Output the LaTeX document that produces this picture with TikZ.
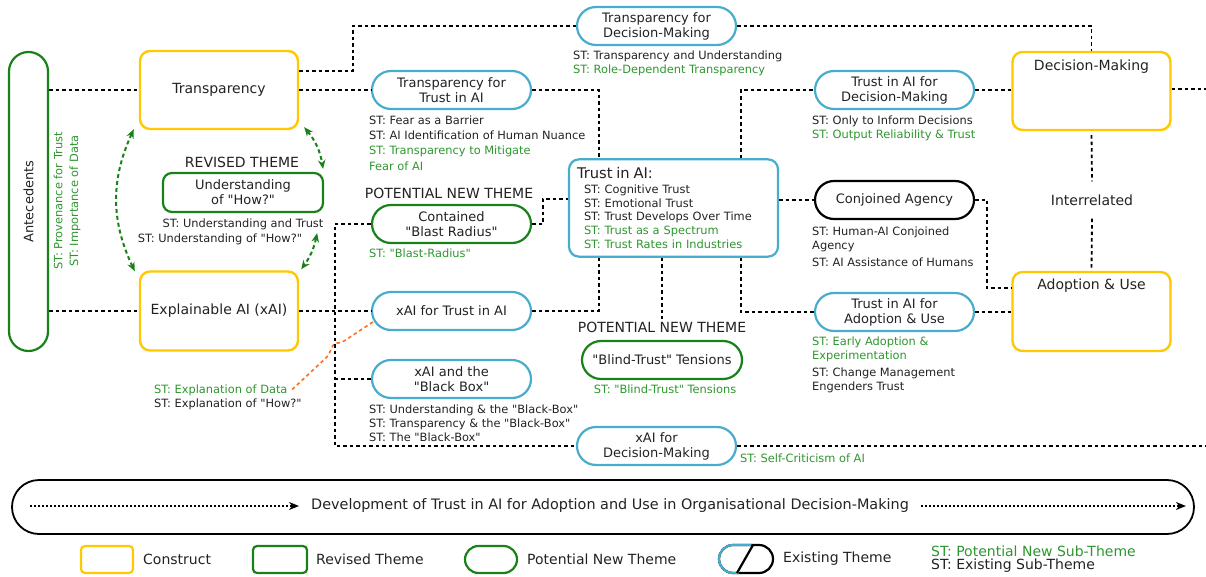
\documentclass[tikz,border=0pt]{standalone}
\usepackage{fontspec}
\setmainfont{DejaVu Sans}[Ligatures=TeXOff]
\usetikzlibrary{arrows.meta,calc}

\definecolor{cons}{RGB}{255,200,0}
\definecolor{thmgreen}{RGB}{24,130,24}
\definecolor{stgreen}{RGB}{46,150,46}
\definecolor{exblue}{RGB}{72,172,204}
\definecolor{ink}{RGB}{34,34,34}
\definecolor{xorange}{RGB}{255,110,30}

\newcommand{\setfs}[2]{\fontsize{#1}{#2}\selectfont}

\tikzset{
  construct/.style={draw=cons, line width=2.4pt, rounded corners=10pt,
    minimum width=158pt, minimum height=78pt, inner sep=0pt,
    font=\setfs{14}{17}, text=ink},
  pill/.style={draw=exblue, line width=2.2pt, rounded corners=19pt,
    minimum width=159pt, minimum height=38pt, inner sep=0pt, align=center,
    font=\setfs{13}{15}, text=ink},
  newpill/.style={pill, draw=thmgreen},
  oldpill/.style={pill, draw=black},
  revbox/.style={draw=thmgreen, line width=2.2pt, rounded corners=9pt,
    minimum width=160pt, minimum height=39pt, inner sep=0pt, align=center,
    font=\setfs{13}{15}, text=ink},
  head/.style={font=\setfs{14}{16}, text=ink, inner sep=0pt},
  sub/.style={font=\setfs{11.4}{14.5}, text=ink, align=left, inner sep=0pt,
    anchor=north west},
  conn/.style={draw=black, line width=1.8pt, dash pattern=on 3.5pt off 3pt},
  garrow/.style={draw=thmgreen, line width=2pt, dash pattern=on 4pt off 3pt,
    {Stealth[length=9pt,width=7.5pt]}-{Stealth[length=9pt,width=7.5pt]}},
  devarrow/.style={draw=black, line width=1.6pt, dash pattern=on 2pt off 2pt,
    -{Stealth[length=10pt,width=8pt]}},
  legtext/.style={font=\setfs{14}{16}, text=ink, inner sep=0pt, anchor=west},
}

\begin{document}
\begin{tikzpicture}[x=1pt,y=-1pt]
\useasboundingbox (0,0) rectangle (1206,577);
\coordinate (redge) at (1206,0);

% ---------- constructs ----------
\node[draw=thmgreen, line width=2.2pt, rounded corners=19.5pt,
      minimum width=39pt, minimum height=299pt, inner sep=0pt] (ante) at (28.5,201.5) {};
\node[rotate=90, font=\setfs{13}{15}, text=ink] at (ante) {Antecedents};
\node[sub, anchor=center, rotate=90, text=stgreen] at (58,201) {ST: Provenance for Trust};
\node[sub, anchor=center, rotate=90, text=stgreen] at (75,201) {ST: Importance of Data};

\node[construct] (trans) at (219,90) {Transparency};
\node[construct, minimum height=79pt] (xai) at (219,311) {Explainable AI (xAI)};
\node[construct] (dm) at (1091.5,91) {};
\node[head, below=9pt] at (dm.north) {Decision-Making};
\node[construct, minimum height=79pt] (adopt) at (1091.5,311.5) {};
\node[head, below=8pt] at (adopt.north) {Adoption \& Use};
\node[head, inner ysep=13pt] (interrel) at (1092,200) {Interrelated};

% ---------- revised theme ----------
\node[head] at (242,162) {REVISED THEME};
\node[revbox] (und) at (243,192.5) {Understanding\\of "How?"};
\node[sub, anchor=center] at (243,224) {ST: Understanding and Trust};
\node[sub, anchor=center] at (220,239) {ST: Understanding of "How?"};

% ---------- themes ----------
\node[pill] (tdm) at (656.5,26) {Transparency for\\Decision-Making};
\node[sub] at (573,50.5) {ST: Transparency and Understanding\\{\color{stgreen}ST: Role-Dependent Transparency}};

\node[pill] (ttrust) at (451.5,90) {Transparency for\\Trust in AI};
\node[sub, font=\setfs{11.4}{15.3}] at (369,115.5) {ST: Fear as a Barrier\\ST: AI Identification of Human Nuance\\{\color{stgreen}ST: Transparency to Mitigate}\\{\color{stgreen}Fear of AI}};

\node[head] (pnt1) at (449,193) {POTENTIAL NEW THEME};
\node[newpill] (blast) at (451.5,224) {Contained\\"Blast Radius"};
\node[sub, anchor=west, text=stgreen] at (369,253) {ST: "Blast-Radius"};

\node[pill] (xtrust) at (451.5,311) {xAI for Trust in AI};
\node[pill] (xbb) at (451.5,379) {xAI and the\\"Black Box"};
\node[sub, font=\setfs{11.4}{14}] at (369,404.5) {ST: Understanding \& the "Black-Box"\\ST: Transparency \& the "Black-Box"\\ST: The "Black-Box"};

\node[pill] (xdm) at (656.5,446) {xAI for\\Decision-Making};
\node[sub, anchor=west, text=stgreen] at (740,458) {ST: Self-Criticism of AI};

\node[sub, anchor=west, text=stgreen] (explA) at (154,390) {ST: Explanation of Data};
\node[sub, anchor=west] (explB) at (154,404) {ST: Explanation of "How?"};

\node[draw=exblue, line width=2.2pt, rounded corners=10pt, minimum height=96pt,
      text width=193pt, inner sep=8pt, align=left, font=\setfs{11.4}{13.8}, text=ink]
      (tai) at (673.5,208) {{\setfs{14.7}{16}Trust in AI:}\\[1pt]
      \hspace*{7pt}ST: Cognitive Trust\\
      \hspace*{7pt}ST: Emotional Trust\\
      \hspace*{7pt}ST: Trust Develops Over Time\\
      \hspace*{7pt}{\color{stgreen}ST: Trust as a Spectrum}\\
      \hspace*{7pt}{\color{stgreen}ST: Trust Rates in Industries}};

\node[head] (pnt2) at (662,327) {POTENTIAL NEW THEME};
\node[newpill, minimum width=160pt] (blind) at (662,360) {"Blind-Trust" Tensions};
\node[sub, anchor=center, text=stgreen] at (665,389) {ST: "Blind-Trust" Tensions};

\node[pill] (tadm) at (894.5,90) {Trust in AI for\\Decision-Making};
\node[sub, font=\setfs{11.4}{14}] at (812,115.5) {ST: Only to Inform Decisions\\{\color{stgreen}ST: Output Reliability \& Trust}};

\node[oldpill] (conj) at (894.5,200) {Conjoined Agency};
\node[sub, font=\setfs{11.4}{14}] at (812,226.5) {ST: Human-AI Conjoined\\Agency\\[3pt]ST: AI Assistance of Humans};

\node[pill] (taau) at (894.5,312) {Trust in AI for\\Adoption \& Use};
\node[sub, font=\setfs{11.4}{14}] at (812,336.5) {{\color{stgreen}ST: Early Adoption \&}\\{\color{stgreen}Experimentation}\\[3pt]ST: Change Management\\Engenders Trust};

% ---------- connectors ----------
\draw[conn] (ante.east |- trans.west) -- (trans.west);
\draw[conn] (ante.east |- xai.west) -- (xai.west);
\draw[conn] ([yshift=19pt]trans.east) -- ++(54,0) |- (tdm.west);
\draw[conn] (trans.east) -- (ttrust.west);
\draw[conn] (ttrust.east) -| ([xshift=31pt]tai.north west);
\draw[conn] (tdm.east) -| (dm.north);
\draw[conn] ([xshift=-38pt]tai.north east) |- (tadm.west);
\draw[conn] (tadm.east) -- (dm.west |- tadm.east);
\draw[conn] (tai.east |- conj.west) -- (conj.west);
\draw[conn] (conj.east) -- ++(12,0) |- ([yshift=23.5pt]adopt.west);
\draw[conn] ([xshift=-38pt]tai.south east) |- (taau.west);
\draw[conn] (taau.east) -- (adopt.west |- taau.east);
\draw[conn, shorten <=4pt] (dm.south) -- (interrel.north);
\draw[conn, shorten >=3pt] (interrel.south) -- (adopt.north);
\draw[conn] ([yshift=2pt]dm.east) -- ([yshift=2pt]dm.east -| redge);
\draw[conn] (blast.east) -- ++(11,0) |- ([yshift=9pt]tai.west);
\draw[conn] (xai.east) -- (xtrust.west);
\draw[conn] (xtrust.east) -| ([xshift=31pt]tai.south west);
\draw[conn, shorten >=3pt] (pnt2.north |- tai.south) -- (pnt2.north);
\draw[conn] (blast.west) -- ++(-36,0) |- (xdm.west);
\draw[conn] (xbb.west) -- ++(-36,0);
\draw[conn] (xdm.east) -- (xdm.east -| redge);

\draw[xorange, line width=1.6pt, dash pattern=on 3.5pt off 3pt, rounded corners=3pt]
  ([shift={(2pt,-11pt)}]xtrust.west) -- (341,343) -- (334,343) -- (328,356) -- ([xshift=4pt]explA.east);

\draw[garrow] ([shift={(-5pt,1pt)}]trans.south west) to[bend right=25] ([shift={(-4pt,-1pt)}]xai.north west);
\draw[garrow] ([shift={(5pt,3pt)}]trans.south east) to[bend left=15] ([shift={(-1pt,3pt)}]und.north east);
\draw[garrow] ([shift={(-7pt,-20pt)}]und.south east) to[bend left=12] ([shift={(2pt,1pt)}]xai.north east);

% ---------- development bar ----------
\node[draw=black, line width=1.8pt, rounded corners=27pt, minimum width=1182pt,
      minimum height=54pt, inner sep=0pt] (devbar) at (603,507) {};
\node[font=\setfs{14.4}{16}, text=ink, inner sep=0pt] (devtext) at (610,506)
  {Development of Trust in AI for Adoption and Use in Organisational Decision-Making};
\draw[devarrow] ([xshift=19pt]devbar.west |- devtext.west) -- ([xshift=-12pt]devtext.west);
\draw[devarrow] ([xshift=12pt]devtext.east) -- ([xshift=-9pt]devbar.east |- devtext.east);

% ---------- legend ----------
\node[draw=cons, line width=2.2pt, rounded corners=4pt, minimum width=52pt, minimum height=27pt] (lg1) at (107,559.5) {};
\node[legtext] at (143,559.5) {Construct};
\node[draw=thmgreen, line width=2.2pt, rounded corners=4pt, minimum width=54pt, minimum height=27pt] (lg2) at (280,559.5) {};
\node[legtext] at (316,559.5) {Revised Theme};
\node[draw=thmgreen, line width=2.2pt, rounded corners=13.5pt, minimum width=52pt, minimum height=27pt] (lg3) at (491,559.5) {};
\node[legtext] at (527,559.5) {Potential New Theme};
\node[draw=black, line width=2.2pt, rounded corners=14pt, minimum width=54pt, minimum height=28pt,
      inner sep=0pt, outer sep=0pt] (lg4) at (746,559) {};
\begin{scope}
  \clip ([shift={(-4pt,4pt)}]lg4.north west) -- ([xshift=7pt,yshift=4pt]lg4.north) -- ([xshift=-9pt,yshift=-4pt]lg4.south) -- ([shift={(-4pt,-4pt)}]lg4.south west) -- cycle;
  \draw[exblue, line width=2.2pt, rounded corners=14pt] (lg4.south west) rectangle (lg4.north east);
\end{scope}
\draw[black, line width=2.2pt] ([xshift=7pt]lg4.north) -- ([xshift=-9pt]lg4.south);
\node[legtext] at (783,559) {Existing Theme};
\node[legtext, text=stgreen] at (931,551) {ST: Potential New Sub-Theme};
\node[legtext] at (931,566) {ST: Existing Sub-Theme};
\end{tikzpicture}
\end{document}
